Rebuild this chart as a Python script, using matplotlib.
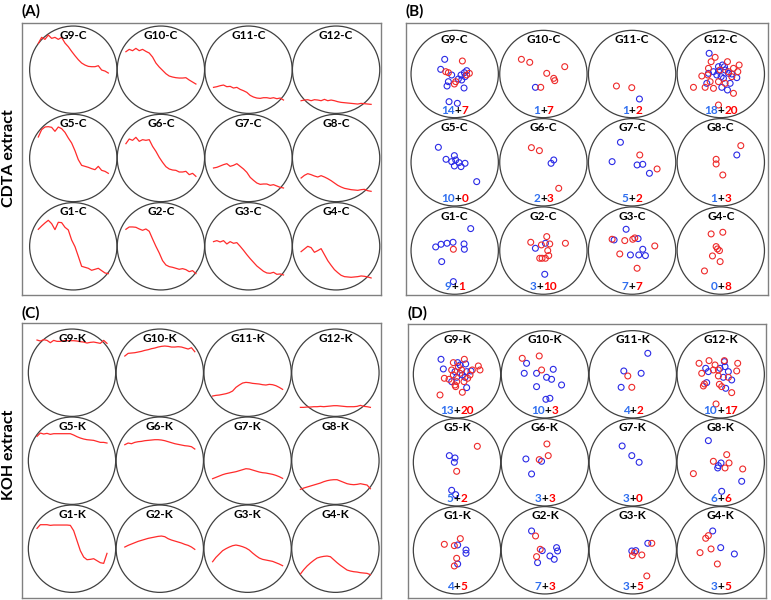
import matplotlib
matplotlib.use("Agg")
import matplotlib.pyplot as plt
from matplotlib.patches import Circle
from matplotlib.offsetbox import TextArea, HPacker, AnnotationBbox

plt.rcParams['font.family'] = ['Lato', 'DejaVu Sans']

# ---------------- data ----------------
grid_rows = [[9, 10, 11, 12], [5, 6, 7, 8], [1, 2, 3, 4]]
wave_x = list(range(-105, 106, 10))

trace_cdta = {
    "G9-C": [79, 97, 91, 104, 94, 97, 91, 97, 80, 69, 55, 42, 30, 20, 14, 10, 9, 9, 12, -1, -4, -10],
    "G10-C": [54, 61, 57, 64, 57, 61, 55, 50, 38, 20, 8, -2, -12, -19, -22, -24, -25, -25, -24, -31, -37, -43],
    "G11-C": [-53, -51, -48, -46, -51, -50, -55, -53, -59, -63, -68, -77, -82, -85, -86, -84, -84, -86, -84, -87, -85, -91],
    "G12-C": [-93, -91, -90, -93, -90, -91, -93, -89, -93, -91, -93, -96, -98, -99, -100, -101, -102, -103, -101, -102, -103, -104],
    "G5-C": [63, 85, 93, 94, 92, 80, 93, 88, 77, 60, 45, 22, -5, -22, -25, -28, -32, -35, -25, -37, -40, -46],
    "G6-C": [43, 57, 53, 62, 50, 55, 53, 55, 35, 20, 2, -13, -26, -33, -36, -37, -42, -42, -40, -50, -46, -55],
    "G7-C": [-30, -28, -24, -20, -17, -25, -22, -17, -25, -33, -43, -58, -67, -75, -79, -78, -78, -82, -80, -84, -88, -90],
    "G8-C": [-60, -52, -47, -50, -54, -57, -53, -57, -62, -68, -75, -82, -87, -91, -93, -95, -96, -97, -95, -94, -98, -100],
    "G1-C": [51, 61, 70, 78, 68, 50, 72, 71, 57, 49, 19, -1, -30, -60, -63, -66, -72, -69, -66, -73, -80, -82],
    "G2-C": [51, 58, 58, 57, 52, 48, 52, 45, 22, 0, -20, -43, -56, -61, -63, -66, -69, -67, -70, -76, -73, -82],
    "G3-C": [14, 17, 13, 17, 7, 14, 9, 11, 0, -12, -25, -37, -48, -59, -67, -75, -80, -81, -78, -84, -83, -86],
    "G4-C": [-16, -8, 0, -4, -18, -13, -7, -25, -43, -57, -70, -79, -87, -91, -92, -93, -92, -91, -89, -90, -92, -95],
}

trace_koh = {
    "G9-K": [98, 95, 99, 97, 90, 97, 94, 94, 96, 96, 96, 96, 95, 93, 92, 89, 91, 92, 90, 88, 97, 88],
    "G10-K": [50, 58, 59, 60, 62, 64, 67, 69, 72, 74, 77, 79, 80, 79, 77, 77, 78, 77, 74, 71, 75, 63],
    "G11-K": [-70, -68, -67, -65, -63, -60, -55, -44, -37, -31, -29, -30, -32, -33, -34, -36, -37, -35, -36, -39, -44, -50],
    "G12-K": [-104, -104, -103, -103, -102, -102, -101, -102, -101, -100, -99, -99, -100, -101, -102, -102, -102, -101, -98, -101, -102, -104],
    "G5-K": [73, 83, 80, 82, 79, 81, 81, 81, 81, 81, 81, 77, 72, 68, 65, 63, 62, 61, 58, 55, 55, 53],
    "G6-K": [48, 53, 51, 55, 57, 58, 60, 61, 62, 63, 63, 62, 60, 57, 54, 51, 49, 47, 45, 44, 42, 35],
    "G7-K": [-54, -50, -46, -42, -39, -37, -35, -33, -30, -27, -24, -25, -28, -31, -34, -36, -37, -39, -41, -44, -48, -53],
    "G8-K": [-86, -82, -79, -76, -73, -70, -67, -63, -60, -58, -57, -57, -61, -65, -69, -71, -72, -71, -69, -71, -73, -84],
    "G1-K": [61, 72, 72, 72, 70, 71, 71, 71, 71, 71, 70, 54, 24, -6, -25, -33, -32, -30, -36, -42, -44, -14],
    "G2-K": [5, 10, 14, 18, 22, 25, 28, 31, 33, 35, 37, 38, 36, 30, 26, 23, 20, 17, 13, 10, 5, -2],
    "G3-K": [-39, -26, -16, -6, 0, 5, 9, 11, 9, 6, 2, -4, -13, -21, -28, -32, -34, -36, -38, -42, -46, -51],
    "G4-K": [-76, -63, -52, -43, -35, -28, -25, -23, -22, -24, -33, -42, -50, -57, -64, -67, -69, -70, -72, -73, -74, -78],
}

blue_cdta = {
    "G9-C": [(-30, 44), (-42, 14), (-9, -3), (-19, -23), (-23, -36), (28, -42), (21, -18), (19, -3), (36, 10), (31, -8), (29, 4), (11, -15), (-17, -83), (8, -88)],
    "G10-C": [(-24, -40)],
    "G11-C": [(22, -75)],
    "G12-C": [(-35, 62), (5, 27), (-7, 9), (13, 12), (23, 2), (1, -8), (-12, -3), (8, -13), (-37, 2), (-42, -28), (3, -40), (28, -28), (48, -11), (33, 0), (20, -48), (-7, 22), (11, 22), (-22, 7)],
    "G5-C": [(-49, 45), (-26, 9), (-9, 2), (-1, 20), (3, 7), (13, -1), (31, -3), (-1, -11), (19, -13), (66, -58)],
    "G6-C": [(23, -3), (31, 7)],
    "G7-C": [(-35, 60), (-60, 2), (15, -8), (32, -6), (52, -33)],
    "G8-C": [(48, 22)],
    "G1-C": [(48, 66), (-57, 11), (-41, 19), (-23, 22), (-5, 25), (28, 20), (29, 4), (-39, -33), (-4, -93)],
    "G2-C": [(-24, 7), (6, 22), (4, -71)],
    "G3-C": [(-18, 64), (-54, 32), (18, 36), (32, 4), (20, -13), (-5, -13), (40, -15)],
    "G4-C": [],
}
red_cdta = {
    "G9-C": [(23, 39), (-27, 7), (-19, 4), (-1, -30), (44, 2), (36, -3), (3, -23)],
    "G10-C": [(-66, 44), (-41, 35), (10, 2), (31, -13), (34, -20), (64, 22), (-8, -40)],
    "G11-C": [(-47, -36), (-1, -41)],
    "G12-C": [(-29, 37), (-17, 50), (20, 37), (55, 27), (51, 7), (33, -8), (-57, -6), (-82, -40), (-47, -40), (-32, -23), (-39, -3), (-7, -23), (-22, -43), (38, -58), (-7, -93), (23, 7), (13, -28), (-2, 12), (38, 17), (-37, 17)],
    "G5-C": [],
    "G6-C": [(-36, 44), (-12, 35), (46, -78)],
    "G7-C": [(23, 22), (75, -20)],
    "G8-C": [(60, 50), (-14, 9), (-14, -5), (6, -38)],
    "G1-C": [(-4, 4)],
    "G2-C": [(-38, 25), (10, 42), (-6, 17), (66, 22), (13, 0), (16, -15), (6, -23), (-4, -23), (-11, -23), (19, 20)],
    "G3-C": [(-60, 34), (-22, 30), (2, 34), (8, 38), (68, 14), (-37, -10), (15, -53)],
    "G4-C": [(-29, 50), (6, 55), (-14, 12), (-10, 5), (-4, 0), (-25, -16), (-2, -33), (-49, -61)],
}

blue_koh = {
    "G9-K": [(-48, 45), (-41, 16), (2, 35), (9, 28), (26, 31), (29, 8), (24, -9), (16, -2), (-6, 8), (-16, -22), (29, -40), (42, 10), (-1, -9)],
    "G10-K": [(-55, 33), (-62, 3), (-25, 3), (25, 15), (5, -9), (20, -15), (-25, -37), (50, -32), (3, -75), (15, -72)],
    "G11-K": [(45, 63), (-27, 10), (25, 3), (-35, -39)],
    "G12-K": [(-45, 18), (-37, 8), (11, 38), (13, 23), (-2, 18), (23, 8), (8, -9), (33, -17), (-42, -25), (15, -42)],
    "G5-K": [(-23, 20), (-6, 13), (-8, 0), (-16, -84), (-4, -97)],
    "G6-K": [(-57, 10), (-10, 3), (-40, -35)],
    "G7-K": [(-32, 49), (-3, 20), (19, 0)],
    "G8-K": [(-37, 65), (-7, -10), (1, -2), (-9, -17), (63, -57), (3, -87)],
    "G1-K": [(2, 16), (27, 1), (27, -9), (2, -41)],
    "G2-K": [(-40, 58), (35, 8), (38, -2), (15, -17), (28, -27), (-22, -37), (-8, -1)],
    "G3-K": [(-3, -2), (9, -1), (45, 21)],
    "G4-K": [(-24, 58), (0, 8), (41, -11)],
}
red_koh = {
    "G9-K": [(-11, 35), (22, 45), (64, 25), (69, 13), (46, 13), (-38, -12), (-51, -62), (16, -54), (-6, -32), (-1, -22), (-11, -2), (14, 13), (32, -12), (-24, -15), (4, 23), (21, -22), (39, -2), (-16, 13), (-4, -37), (9, 3)],
    "G10-K": [(-68, 48), (-17, 55), (-10, 13)],
    "G11-K": [(-15, -5), (-3, -39)],
    "G12-K": [(-65, 33), (-35, 41), (-17, 28), (11, 41), (51, 33), (48, 10), (-57, 3), (-52, -35), (-49, -29), (-7, -5), (-4, -30), (3, -37), (33, -55), (-14, -89), (-22, 13), (-7, 13), (23, -9)],
    "G5-K": [(61, 48), (-1, -27)],
    "G6-K": [(6, 55), (10, 20), (-17, 8)],
    "G7-K": [],
    "G8-K": [(18, 23), (-22, 3), (25, -2), (13, -17), (-82, -34), (66, -20)],
    "G1-K": [(-38, 18), (10, 35), (-8, 14), (-1, -24), (-8, -47)],
    "G2-K": [(-28, 43), (-14, 3), (-25, -19)],
    "G3-K": [(57, 21), (-1, -16), (27, -14), (42, -77), (5, -6)],
    "G4-K": [(-37, 44), (-45, 36), (-29, 4), (-62, -7), (-10, -41)],
}

counts_cdta = {"G9-C": (14, 7), "G10-C": (1, 7), "G11-C": (1, 2), "G12-C": (18, 20),
               "G5-C": (10, 0), "G6-C": (2, 3), "G7-C": (5, 2), "G8-C": (1, 3),
               "G1-C": (9, 1), "G2-C": (3, 10), "G3-C": (7, 7), "G4-C": (0, 8)}
counts_koh = {"G9-K": (13, 20), "G10-K": (10, 3), "G11-K": (4, 2), "G12-K": (10, 17),
              "G5-K": (5, 2), "G6-K": (3, 3), "G7-K": (3, 0), "G8-K": (6, 6),
              "G1-K": (4, 5), "G2-K": (7, 3), "G3-K": (3, 5), "G4-K": (3, 5)}

panel_letters = ["(A)", "(B)", "(C)", "(D)"]
row_titles = ["CDTA extract", "KOH extract"]

# ---------------- style / layout ----------------
W, H = 771, 600
R = 131            # circle radius in data units (3 units per pixel)
LINE_RED = "#ff2b2b"
MK_BLUE = "#2a2ae6"
MK_RED = "#ee2a2a"
TXT_BLUE = "#2f6ff0"
TXT_RED = "#ff0000"
CIRC_EC = "#404040"

# box (l, t, r, b) in px, first circle centre (px), spacing x/y (px)
panels = [
    dict(box=(22.3, 22.7, 381, 295), c0=(73.3, 69.7), sp=(87.6, 88.3), suffix="C", kind="trace"),
    dict(box=(406, 22.7, 768.3, 295), c0=(454.7, 74.0), sp=(88.7, 88.3), suffix="C", kind="scatter"),
    dict(box=(22.3, 323.3, 381, 598.3), c0=(72.0, 372.7), sp=(87.8, 88.0), suffix="K", kind="trace"),
    dict(box=(408.3, 324.3, 766, 598.3), c0=(457.0, 374.3), sp=(87.9, 88.0), suffix="K", kind="scatter"),
]
label_pos = [(22, 11), (406, 11), (22, 313), (408, 313)]

fig = plt.figure(figsize=(W / 100, H / 100), dpi=100)
fig.patch.set_facecolor("white")

for p_i, p in enumerate(panels):
    l, t, r, b = p["box"]
    ax = fig.add_axes([l / W, 1 - b / H, (r - l) / W, (b - t) / H])
    ax.set_xlim(0, (r - l) * 3)
    ax.set_ylim((b - t) * 3, 0)
    ax.set_xticks([])
    ax.set_yticks([])
    for s in ax.spines.values():
        s.set_color("#808080")
        s.set_linewidth(1.0)
    suffix = p["suffix"]
    traces = trace_cdta if suffix == "C" else trace_koh
    blues = blue_cdta if suffix == "C" else blue_koh
    reds = red_cdta if suffix == "C" else red_koh
    counts = counts_cdta if suffix == "C" else counts_koh

    for i, row in enumerate(grid_rows):
        for j, g in enumerate(row):
            name = f"G{g}-{suffix}"
            cx = (p["c0"][0] - l) * 3 + j * p["sp"][0] * 3
            cy = (p["c0"][1] - t) * 3 + i * p["sp"][1] * 3
            ax.add_patch(Circle((cx, cy), R, fill=False, ec=CIRC_EC, lw=0.9, zorder=2))
            ax.text(cx, cy - 103, name, ha="center", va="center", fontsize=8.5,
                    fontweight="bold", color="black", zorder=5)
            if p["kind"] == "trace":
                ys = traces[name]
                ax.plot([cx + x for x in wave_x], [cy - y for y in ys],
                        color=LINE_RED, lw=0.9, zorder=3)
            else:
                bl = blues[name]
                rd = reds[name]
                if bl:
                    ax.scatter([cx + d[0] for d in bl], [cy - d[1] for d in bl], s=18,
                               facecolors="none", edgecolors=MK_BLUE, linewidths=0.8, zorder=3)
                if rd:
                    ax.scatter([cx + d[0] for d in rd], [cy - d[1] for d in rd], s=18,
                               facecolors="none", edgecolors=MK_RED, linewidths=0.8, zorder=3)
                nb, nr = counts[name]
                tp = dict(fontsize=8.5, fontweight="bold")
                box = HPacker(children=[
                    TextArea(str(nb), textprops=dict(color=TXT_BLUE, **tp)),
                    TextArea("+", textprops=dict(color="black", **tp)),
                    TextArea(str(nr), textprops=dict(color=TXT_RED, **tp)),
                ], sep=0, pad=0, align="baseline")
                ab = AnnotationBbox(box, (cx, cy + 109), box_alignment=(0.5, 0.5),
                                    frameon=False, pad=0, zorder=6)
                ax.add_artist(ab)

for (x, y), lab in zip(label_pos, panel_letters):
    fig.text(x / W, 1 - y / H, lab, ha="left", va="center", fontsize=11, fontweight="bold")

fig.text(9.5 / W, 1 - 158 / H, row_titles[0], rotation=90, ha="center", va="center",
         fontsize=11.5, fontweight="bold")
fig.text(9.5 / W, 1 - 455 / H, row_titles[1], rotation=90, ha="center", va="center",
         fontsize=11.5, fontweight="bold")

fig.savefig("out.png", dpi=100, facecolor="white")
